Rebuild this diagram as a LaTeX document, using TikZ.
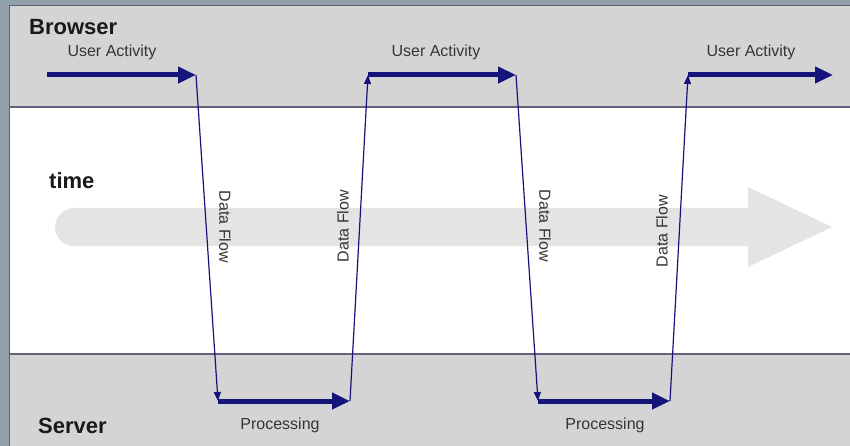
\documentclass[tikz,border=0pt]{standalone}
\usepackage{fontspec}
\setmainfont{Liberation Sans}
\usetikzlibrary{arrows.meta}

\definecolor{outerbg}{HTML}{8FA0A8}
\definecolor{bandgray}{HTML}{D4D4D4}
\definecolor{rulecol}{HTML}{62607C}
\definecolor{flownavy}{HTML}{14147A}
\definecolor{timegray}{HTML}{E4E4E4}
\definecolor{labelgray}{HTML}{353535}

\tikzset{
  actarrow/.style={draw=flownavy, line width=5pt,
    -{Triangle[length=18pt,width=16pt]}},
  flowline/.style={draw=flownavy, line width=1.2pt,
    -{Triangle[length=9pt,width=7pt]}},
  smalllabel/.style={font=\fontsize{16}{18}\selectfont, text=labelgray, inner sep=0pt},
  biglabel/.style={font=\fontsize{22}{24}\selectfont\bfseries, text=black!90, inner sep=0pt, anchor=base west},
}

\begin{document}
\begin{tikzpicture}[x=1pt,y=-1pt]
  \useasboundingbox (0,0) rectangle (850,446);

  % surrounding backdrop and panel
  \fill[outerbg] (0,0) rectangle (850,446);
  \fill[white] (9,5) rectangle (850,446);
  \fill[bandgray] (9,5) rectangle (850,107);
  \fill[bandgray] (9,354) rectangle (850,446);
  \draw[rulecol, line width=1.5pt] (9.5,446) -- (9.5,5.5) -- (850,5.5);
  \draw[rulecol, line width=2pt] (9,107) -- (850,107);
  \draw[rulecol, line width=2pt] (9,354) -- (850,354);

  % time arrow in the background
  \fill[timegray] (74,208) -- (748,208) -- (748,187) -- (832,227)
    -- (748,267) -- (748,246) -- (74,246)
    arc[start angle=90, end angle=270, radius=19] -- cycle;

  % lane titles
  \node[biglabel] (browser) at (29,35) {Browser};
  \node[biglabel] (server) at (38,433) {Server};
  \node[biglabel] (time) at (49,189) {time};

  % corner points of the request cycle
  \coordinate (b1s) at (47,75);
  \coordinate (b1e) at (196,75);
  \coordinate (s1s) at (218,401);
  \coordinate (s1e) at (350,401);
  \coordinate (b2s) at (368,75);
  \coordinate (b2e) at (516,75);
  \coordinate (s2s) at (538,401);
  \coordinate (s2e) at (670,401);
  \coordinate (b3s) at (688,75);
  \coordinate (b3e) at (833,75);

  % data flow between browser and server
  \draw[flowline] (b1e) -- (s1s);
  \draw[flowline] (s1e) -- (b2s);
  \draw[flowline] (b2e) -- (s2s);
  \draw[flowline] (s2e) -- (b3s);

  % activity on each side
  \draw[actarrow] (b1s) -- (b1e);
  \draw[actarrow] (s1s) -- (s1e);
  \draw[actarrow] (b2s) -- (b2e);
  \draw[actarrow] (s2s) -- (s2e);
  \draw[actarrow] (b3s) -- (b3e);

  % labels
  \node[smalllabel] (ua1) at (112,52) {User Activity};
  \node[smalllabel] (ua2) at (436,52) {User Activity};
  \node[smalllabel] (ua3) at (751,52) {User Activity};
  \node[smalllabel] (pr1) at (280,425) {Processing};
  \node[smalllabel] (pr2) at (605,425) {Processing};
  \node[smalllabel, rotate=-90] (df1) at (225,227) {Data Flow};
  \node[smalllabel, rotate=90] (df2) at (343,226) {Data Flow};
  \node[smalllabel, rotate=-90] (df3) at (545,226) {Data Flow};
  \node[smalllabel, rotate=90] (df4) at (662,231) {Data Flow};
\end{tikzpicture}
\end{document}
